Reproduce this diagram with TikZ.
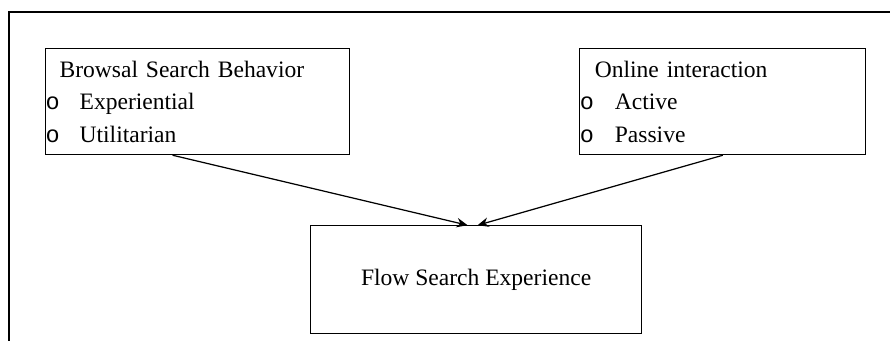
\documentclass[tikz,border=0pt]{standalone}
\usepackage{fontspec}
\setmainfont{Liberation Serif}
\newfontfamily\bulletfont{Liberation Mono}
\usepackage{tikz}
\usetikzlibrary{arrows.meta,positioning,calc}

\begin{document}
\begin{tikzpicture}[
      node distance=14mm and 46mm,
      box/.style={rectangle, draw, line width=0.7pt, align=left, inner xsep=0pt, inner ysep=0pt, minimum height=21.2mm, font=\fontsize{13.4}{18.5}\selectfont},
      flowbox/.style={rectangle, draw, line width=0.7pt, align=center, minimum width=66.2mm, minimum height=21.6mm, font=\fontsize{13.4}{18.5}\selectfont},
      arrow/.style={-{Stealth[length=2.2mm, width=1.9mm]}, line width=0.7pt}
    ]
    \useasboundingbox (0,0) rectangle (17.8,-6.82);

    % ============ FRAME ============
    \draw[line width=0.7pt] (17.8,-0.24) -| (0.18,-6.82);

    % ============ INPUT BOXES ============
    % Browsal search behaviour
    \node[box, anchor=north west, text width=60.8mm] (browse) at (0.9,-0.96) {\hspace*{2.8mm}Browsal Search Behavior\\\makebox[6.8mm][l]{\bulletfont o}Experiential\\\makebox[6.8mm][l]{\bulletfont o}Utilitarian};

    % Online interaction
    \node[box, right=45.8mm of browse, text width=57.2mm] (online) {\hspace*{3mm}Online interaction\\\makebox[7mm][l]{\bulletfont o}Active\\\makebox[7mm][l]{\bulletfont o}Passive};

    % ============ OUTPUT ============
    \node[flowbox, anchor=north west] (flow) at ($(browse.south west)+(5.3,-1.4)$) {Flow Search Experience};

    % Arrow ends
    \coordinate (browseout) at ($(browse.south west)!0.418!(browse.south east)$);
    \coordinate (flowinl) at ($(flow.north)+(-0.17,0)$);
    \coordinate (flowinr) at ($(flow.north)+(0.03,0)$);

    \draw[arrow] (browseout) -- (flowinl);
    \draw[arrow] (online.south) -- (flowinr);

\end{tikzpicture}
\end{document}
